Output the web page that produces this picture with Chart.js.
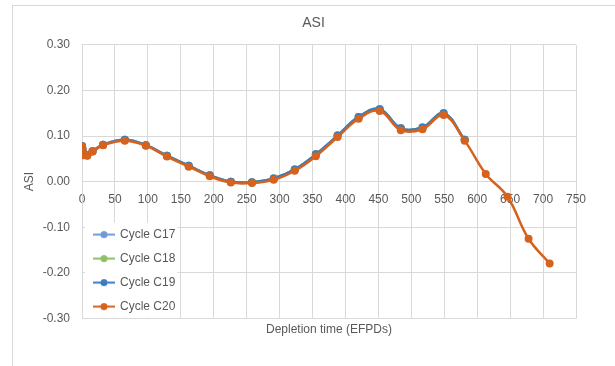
<!DOCTYPE html>
<html>
<head>
<meta charset="utf-8">
<script src="https://cdn.jsdelivr.net/npm/chart.js@4/dist/chart.umd.min.js"></script>
<style>
  body { margin: 0; background: #ffffff; }
  #frame { position: absolute; left: 12px; top: 5px; width: 700px; height: 400px; border: 1px solid #d9d9d9; }
  #wrap { position: absolute; left: 0; top: 0; width: 615px; height: 366px; }
</style>
</head>
<body>
<div id="frame"></div>
<div id="wrap"><canvas id="asiChart" width="615" height="366"></canvas></div>
<script>
// Depletion steps (EFPD) and ASI values
const efpdShort = [0, 0.5, 1, 3, 8, 16, 32, 65, 97, 129, 162, 194, 226, 258, 291, 323, 355, 388, 420, 452, 484, 517, 549, 581];
const efpdLong = efpdShort.concat([613, 646, 678, 710]);

const asiC17 = [0.078, 0.074, 0.067, 0.059, 0.058, 0.067, 0.081, 0.092, 0.080, 0.057, 0.035, 0.014, 0.000, -0.001, 0.007, 0.027, 0.060, 0.101, 0.142, 0.159, 0.117, 0.119, 0.150, 0.092];
const asiC18 = [0.078, 0.074, 0.067, 0.059, 0.058, 0.067, 0.081, 0.092, 0.080, 0.057, 0.035, 0.014, 0.000, -0.001, 0.007, 0.027, 0.060, 0.101, 0.142, 0.159, 0.117, 0.119, 0.150, 0.092];
const asiC19 = [0.078, 0.074, 0.067, 0.059, 0.058, 0.067, 0.081, 0.092, 0.080, 0.057, 0.035, 0.014, 0.000, -0.001, 0.007, 0.027, 0.060, 0.101, 0.142, 0.159, 0.117, 0.119, 0.150, 0.092];
const asiC20 = [0.077, 0.073, 0.066, 0.058, 0.057, 0.066, 0.080, 0.090, 0.079, 0.055, 0.033, 0.012, -0.002, -0.003, 0.004, 0.024, 0.056, 0.098, 0.138, 0.155, 0.113, 0.115, 0.146, 0.090, 0.017, -0.033, -0.125, -0.179];

const cycleNames = ['Cycle C17', 'Cycle C18', 'Cycle C19', 'Cycle C20'];
const cycleColors = ['#7199d8', '#8cc168', '#3a7cc2', '#d6621e'];

const FONT = "'Liberation Sans', Arial, sans-serif";
const TEXT = '#595959';
const GRID = '#d9d9d9';

function toPoints(xs, ys) {
    return ys.map((y, i) => ({ x: xs[i], y: y }));
}

// small line-with-dot marker for the legend
function legendMarker(color) {
    const c = document.createElement('canvas');
    c.width = 22;
    c.height = 9;
    const g = c.getContext('2d');
    g.strokeStyle = color;
    g.lineWidth = 2;
    g.beginPath();
    g.moveTo(0, 4.5);
    g.lineTo(22, 4.5);
    g.stroke();
    g.fillStyle = color;
    g.beginPath();
    g.arc(11, 4.5, 3.5, 0, Math.PI * 2);
    g.fill();
    return c;
}

const seriesData = [
    toPoints(efpdShort, asiC17),
    toPoints(efpdShort, asiC18),
    toPoints(efpdShort, asiC19),
    toPoints(efpdLong, asiC20)
];

const datasets = seriesData.map((pts, i) => ({
    label: cycleNames[i],
    data: pts,
    borderColor: cycleColors[i],
    backgroundColor: cycleColors[i],
    borderWidth: 2.5,
    pointRadius: 4,
    pointBorderWidth: 0,
    tension: 0.4,
    order: 4 - i
}));

// legend sits in the lower left of the plot on a white box
const legendBackground = {
    id: 'legendBackground',
    afterLayout(chart) {
        const lg = chart.legend;
        const h = lg.bottom - lg.top;
        lg.bottom = chart.chartArea.bottom + 6;
        lg.top = lg.bottom - h;
    },
    beforeDatasetsDraw(chart) {
        const lg = chart.legend;
        const boxes = lg.legendHitBoxes;
        if (!boxes || !boxes.length) return;
        const area = chart.chartArea;
        let right = 0, top = Infinity;
        boxes.forEach(b => {
            right = Math.max(right, b.left + b.width);
            top = Math.min(top, b.top);
        });
        const ctx = chart.ctx;
        ctx.save();
        ctx.fillStyle = '#ffffff';
        ctx.fillRect(area.left + 3, top - 6, right + 2 - (area.left + 3), area.bottom - 1 - (top - 6));
        ctx.restore();
        lg.draw();
    }
};

const ctx = document.getElementById('asiChart').getContext('2d');
new Chart(ctx, {
    type: 'line',
    data: { datasets: datasets },
    plugins: [legendBackground],
    options: {
        responsive: false,
        animation: false,
        layout: { padding: { left: 12, right: 0, top: 0, bottom: 25 } },
        plugins: {
            title: {
                display: true,
                text: 'ASI',
                color: TEXT,
                font: { family: FONT, size: 14, weight: 'normal' },
                padding: { top: 15, bottom: 13 }
            },
            legend: {
                position: 'chartArea',
                align: 'end',
                labels: {
                    color: TEXT,
                    font: { family: FONT, size: 12 },
                    padding: 12,
                    usePointStyle: true,
                    pointStyleWidth: 20,
                    generateLabels(chart) {
                        return chart.data.datasets.map((ds, i) => ({
                            text: ds.label,
                            fontColor: TEXT,
                            pointStyle: legendMarker(ds.borderColor),
                            datasetIndex: i,
                            hidden: false,
                            lineWidth: 0
                        }));
                    }
                }
            },
            tooltip: { enabled: false }
        },
        scales: {
            x: {
                type: 'linear',
                position: { y: 0 },
                min: 0,
                max: 750,
                ticks: {
                    stepSize: 50,
                    color: TEXT,
                    padding: 11,
                    font: { family: FONT, size: 12 },
                    callback: v => String(v)
                },
                grid: { color: GRID, drawTicks: false },
                border: { color: GRID }
            },
            xb: {
                type: 'linear',
                position: 'bottom',
                min: 0,
                max: 750,
                ticks: { display: false },
                grid: { display: false, drawTicks: false },
                border: { display: false },
                title: {
                    display: true,
                    text: 'Depletion time (EFPDs)',
                    color: TEXT,
                    font: { family: FONT, size: 12 },
                    padding: { top: 4, bottom: 4 }
                }
            },
            y: {
                type: 'linear',
                position: 'left',
                min: -0.3,
                max: 0.3,
                ticks: {
                    stepSize: 0.1,
                    color: TEXT,
                    padding: 12,
                    font: { family: FONT, size: 12 },
                    callback: v => (Math.abs(v) < 1e-9 ? 0 : v).toFixed(2)
                },
                grid: { color: GRID, drawTicks: false },
                border: { color: GRID },
                title: {
                    display: true,
                    text: 'ASI',
                    color: TEXT,
                    font: { family: FONT, size: 12 },
                    padding: { top: 10, bottom: 4 }
                },
                afterFit(scale) { scale.width = 70; }
            },
            yr: {
                type: 'linear',
                position: 'right',
                ticks: { display: false },
                grid: { display: false, drawTicks: false },
                border: { display: false },
                afterFit(scale) { scale.width = 39; }
            }
        }
    }
});
</script>
</body>
</html>
